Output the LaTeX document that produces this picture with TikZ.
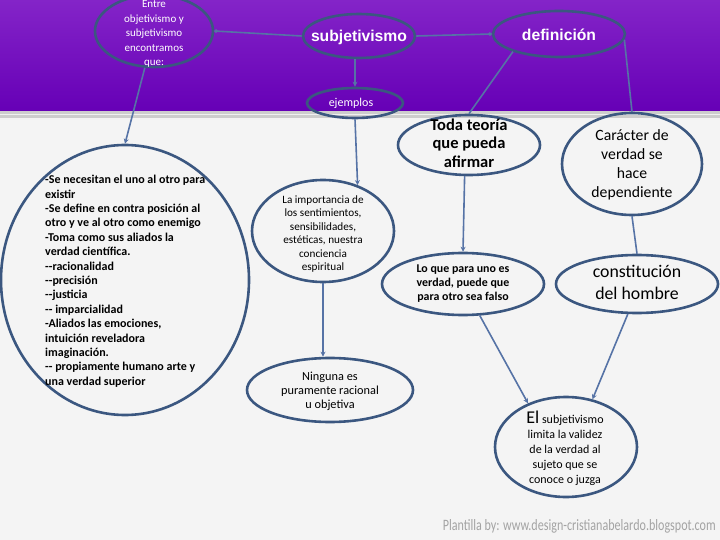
\documentclass[tikz,border=0pt]{standalone}
\usepackage{fontspec}
\setmainfont{Carlito}
\newfontfamily\arialfont{Liberation Sans}
\usetikzlibrary{shapes.geometric,arrows.meta}
\definecolor{edgeblue}{HTML}{3B5780}
\definecolor{linkblue}{HTML}{5673A6}
\definecolor{bandtop}{HTML}{8424C8}
\definecolor{bandbot}{HTML}{6600B6}
\definecolor{bg}{HTML}{F4F4F4}
\definecolor{strip}{HTML}{CDCDCD}
\definecolor{foot}{HTML}{A3A3A3}
\begin{document}
\begin{tikzpicture}[x=1pt,y=-1pt,
  oval/.style={ellipse, draw=edgeblue, line width=2.6pt, inner sep=0pt},
  link/.style={draw=linkblue, line width=1.6pt},
  arr/.style={link, -{Stealth[length=5pt,width=5pt]}},
  txt/.style={align=center, inner sep=0pt},
  wtxt/.style={txt, text=white},
]
\useasboundingbox (0,0) rectangle (720,540);
\fill[bg] (0,0) rectangle (720,540);
\shade[top color=bandtop, bottom color=bandbot] (0,0) rectangle (720,111);
\fill[strip] (0,111) rectangle (720,118);
\fill[white!70!strip] (0,114) rectangle (720,115);

% ellipses
\node[oval, minimum width=118pt, minimum height=72pt] (entre) at (154,31) {};
\node[oval, minimum width=112pt, minimum height=44pt] (subj) at (359,36) {};
\node[oval, minimum width=132pt, minimum height=46pt] (def) at (559,34) {};
\node[oval, minimum width=96pt, minimum height=30pt] (ejem) at (355,103) {};
\node[oval, minimum width=248pt, minimum height=270pt] (big) at (125,280) {};
\node[oval, minimum width=142pt, minimum height=102pt] (imp) at (323,231) {};
\node[oval, minimum width=166pt, minimum height=64pt] (nin) at (330,390) {};
\node[oval, minimum width=142pt, minimum height=60pt] (toda) at (469,145) {};
\node[oval, minimum width=140pt, minimum height=102pt] (car) at (632,164) {};
\node[oval, minimum width=162pt, minimum height=62pt] (lo) at (463,284) {};
\node[oval, minimum width=162pt, minimum height=58pt] (cons) at (637,284) {};
\node[oval, minimum width=142pt, minimum height=100pt] (el) at (566,447) {};

% texts
\node[wtxt, font=\fontsize{11}{14.5}\selectfont] (tentre) at (154,34)
  {Entre\\objetivismo y\\subjetivismo\\encontramos\\que:};
\node[wtxt, font=\fontsize{15.7}{18}\arialfont\bfseries] (tsubj) at (359,37) {subjetivismo};
\node[wtxt, font=\fontsize{15.7}{18}\arialfont\bfseries] (tdef) at (559,35) {definición};
\node[wtxt, font=\fontsize{12}{12}\selectfont] (tejem) at (351,103) {ejemplos};
\node[txt, align=left, anchor=north west, font=\fontsize{12}{14.4}\selectfont\bfseries] (tbig) at (45,175)
  {-Se necesitan el uno al otro para\\existir\\-Se define en contra posición al\\otro y ve al otro como enemigo\\-Toma como sus aliados la\\verdad científica.\\-{}-racionalidad\\-{}-precisión\\-{}-justicia\\-{}- imparcialidad\\-Aliados las emociones,\\intuición reveladora\\imaginación.\\-{}- propiamente humano arte y\\una verdad superior};
\node[txt, font=\fontsize{11.2}{13.5}\selectfont] (timp) at (323,234)
  {La importancia de\\los sentimientos,\\sensibilidades,\\estéticas, nuestra\\conciencia\\espiritual};
\node[txt, font=\fontsize{12.3}{14}\selectfont] (tnin) at (330,391)
  {Ninguna es\\puramente racional\\u objetiva};
\node[txt, font=\fontsize{16.5}{18.5}\selectfont\bfseries] (ttoda) at (469,143)
  {Toda teoría\\que pueda\\afirmar};
\node[txt, font=\fontsize{15.7}{19}\selectfont] (tcar) at (632,165)
  {Carácter de\\verdad se\\hace\\dependiente};
\node[txt, font=\fontsize{11.9}{14}\selectfont\bfseries] (tlo) at (463,284)
  {Lo que para uno es\\verdad, puede que\\para otro sea falso};
\node[txt, font=\fontsize{17.8}{22}\selectfont] (tcons) at (637,282)
  {constitución\\del hombre};
\node[txt, font=\fontsize{12}{15}\selectfont] (tel) at (565,448)
  {{\fontsize{18}{15}\selectfont El} subjetivismo\\limita la validez\\de la verdad al\\sujeto que se\\conoce o juzga};

\node[text=foot, anchor=south east, inner sep=0pt] (tfoot) at (716,533)
  {\resizebox{273pt}{11pt}{Plantilla by: www.design-cristianabelardo.blogspot.com}};

% connectors
\draw[link, {Circle[length=3.5pt,width=3.5pt]}-] (entre.east) -- (subj.west);
\draw[link, -{Circle[length=3.5pt,width=3.5pt]}] (subj.east) -- (def.west);
\draw[arr] (ejem.north |- subj.south) -- (ejem.north);
\draw[arr] (entre.-104) -- (big.north);
\draw[arr] (ejem.south) -- (imp.53);
\draw[arr] (imp.south) -- (imp.south |- nin.north);
\draw[link] (def.201) -- (toda.north);
\draw[link] (def.-5) -- (car.north);
\draw[arr] (toda.-98) -- (lo.north);
\draw[link] (car.south) -- (cons.north);
\draw[arr] (lo.-62) -- (el.131);
\draw[arr] (cons.-107) -- (el.61);
\end{tikzpicture}
\end{document}
